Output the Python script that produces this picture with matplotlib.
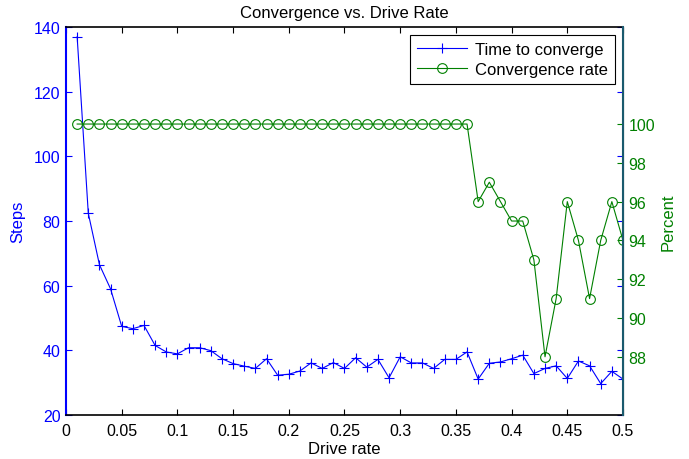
import matplotlib.pyplot as plt
import numpy as np

plt.rcParams['font.family'] = ['Liberation Sans', 'DejaVu Sans']
plt.rcParams['font.size'] = 12

drive = [round(0.01 * i, 2) for i in range(1, 51)]

steps = [137, 82.4, 66.5, 59, 47.4, 46.7, 47.7, 41.5, 39.5, 38.9,
         40.8, 40.8, 39.9, 37.4, 35.9, 35.1, 34.4, 37.4, 32.3, 32.6,
         33.6, 36.1, 34.4, 36.2, 34.4, 37.7, 34.8, 37.2, 31.5, 38.0,
         36.1, 36.1, 34.4, 37.2, 37.2, 39.5, 31.1, 36.0, 36.4, 37.4,
         38.5, 32.8, 34.4, 35.2, 31.3, 36.7, 35.2, 29.7, 33.5, 31.1]

percent = [100] * 36 + [96, 97, 96, 95, 95, 93, 88, 91, 96, 94, 91, 94, 96, 94]

blue = '#0000ff'
green = '#008000'

fig = plt.figure(figsize=(6.89, 4.6), dpi=100)
ax = fig.add_axes([0.0958, 0.0957, 0.8084, 0.8433])
ax2 = ax.twinx()

l1, = ax.plot(drive, steps, color=blue, lw=0.8, marker='+', ms=7, mew=0.8,
              label='Time to converge')
l2, = ax2.plot(drive, percent, color=green, lw=0.8, marker='o', ms=7,
               mfc='none', mew=0.8, label='Convergence rate')

ax.set_xlim(0, 0.5)
ax.set_ylim(20, 140)
ax.set_xticks(np.arange(0, 0.51, 0.05))
ax.set_xticklabels(['0', '0.05', '0.1', '0.15', '0.2', '0.25', '0.3',
                    '0.35', '0.4', '0.45', '0.5'])
ax.set_yticks(range(20, 141, 20))
ax2.set_ylim(85, 105)
ax2.set_yticks(range(88, 101, 2))

ax.tick_params(axis='x', direction='in', top=True, length=4, width=0.8,
               colors='black', labelsize=11.5, pad=6)
ax.tick_params(axis='y', direction='in', right=True, length=4, width=0.8,
               colors=blue, labelsize=11.5, pad=4)
ax2.tick_params(axis='y', direction='in', length=4, width=0.8,
                colors=green, labelsize=11.5, pad=4)

for s in ['top', 'bottom']:
    ax.spines[s].set_linewidth(1.2)
ax.spines['left'].set_color(blue)
ax.spines['left'].set_linewidth(1.5)
ax2.spines['right'].set_color('#1a5a6e')
ax2.spines['right'].set_linewidth(1.5)
ax2.spines['left'].set_visible(False)
ax2.spines['top'].set_visible(False)
ax2.spines['bottom'].set_visible(False)

ax.set_xlabel('Drive rate', labelpad=2)
ax.set_ylabel('Steps', color=blue, labelpad=6)
ax2.set_ylabel('Percent', color=green, labelpad=4)
ax.set_title('Convergence vs. Drive Rate', fontsize=12, pad=7)

leg = ax2.legend([l1, l2], ['Time to converge', 'Convergence rate'],
                 loc='upper right', fancybox=False, framealpha=1,
                 edgecolor='black', borderaxespad=0.5, handlelength=3.0,
                 handletextpad=0.5, borderpad=0.4, labelspacing=0.3,
                 fontsize=12)
leg.get_frame().set_linewidth(0.8)

fig.savefig('out.png', dpi=100)
